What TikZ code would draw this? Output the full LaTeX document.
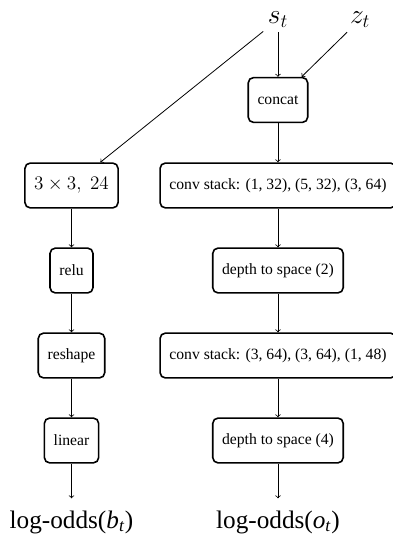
\documentclass[tikz,border=0pt]{standalone}
\usepackage{fontspec}
\setmainfont{Liberation Serif}
\usepackage{tikz}
\tikzset{
  layer/.style={draw, line width=1.2pt, rounded corners=4pt, minimum height=33.75pt, inner xsep=7pt, text centered, font=\fontsize{11.8}{14}\selectfont},
  tag/.style={font=\fontsize{20}{24}\selectfont},
  outlabel/.style={font=\fontsize{19}{23}\selectfont, anchor=base, inner ysep=9pt},
  flow/.style={->, line width=0.6pt}
}

\begin{document}
\begin{tikzpicture}%
\useasboundingbox (0,0) rectangle (10.372, 14.288);%
% inputs
\node[tag] (st) at (7.355, 13.770) {$s_t$};%
\node[tag] (zt) at (9.525, 13.770) {$z_t$};%
% right branch
\node[layer] (concat) at (7.355, 11.642) {concat};%
\node[layer] (convA) at (7.355, 9.380) {conv stack: (1, 32), (5, 32), (3, 64)};%
\node[layer] (dtsA) at (7.355, 7.130) {depth to space (2)};%
\node[layer] (convB) at (7.355, 4.881) {conv stack: (3, 64), (3, 64), (1, 48)};%
\node[layer] (dtsB) at (7.355, 2.633) {depth to space (4)};%
\node[outlabel] (outo) at (7.355, 0.317) {log-odds(\textit{o}\textsubscript{\textit{t}})};%
% left branch
\node[layer, font=\fontsize{14}{16}\selectfont] (kern) at (1.892, 9.380) {$3\times 3,\; 24$};%
\node[layer] (relu) at (1.892, 7.130) {relu};%
\node[layer] (reshape) at (1.892, 4.881) {reshape};%
\node[layer] (linear) at (1.892, 2.633) {linear};%
\node[outlabel] (outb) at (1.892, 0.317) {log-odds(\textit{b}\textsubscript{\textit{t}})};%
% connectors
\draw[flow] (st) -- (concat);%
\draw[flow] (zt) -- (concat);%
\draw[flow] (st) -- (kern);%
\draw[flow] (concat) -- (convA);%
\draw[flow] (convA) -- (dtsA);%
\draw[flow] (dtsA) -- (convB);%
\draw[flow] (convB) -- (dtsB);%
\draw[flow] (dtsB) -- (outo);%
\draw[flow] (kern) -- (relu);%
\draw[flow] (relu) -- (reshape);%
\draw[flow] (reshape) -- (linear);%
\draw[flow] (linear) -- (outb);%
\end{tikzpicture}
\end{document}
